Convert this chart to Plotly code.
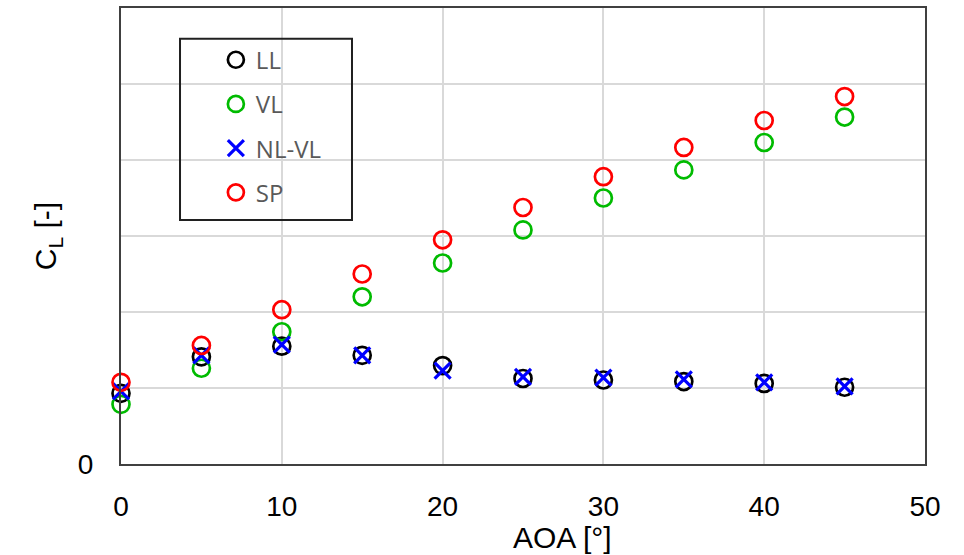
import plotly.graph_objects as go

# Angle of attack [deg]
aoa = [0, 5, 10, 15, 20, 25, 30, 35, 40, 45]

# Lift coefficient per method
cl_ll = [0.186, 0.282, 0.310, 0.286, 0.259, 0.225, 0.221, 0.217, 0.212, 0.202]
cl_vl = [0.157, 0.252, 0.348, 0.440, 0.529, 0.616, 0.700, 0.774, 0.846, 0.913]
cl_nlvl = [0.191, 0.286, 0.314, 0.286, 0.246, 0.229, 0.227, 0.223, 0.215, 0.204]
cl_sp = [0.215, 0.312, 0.406, 0.500, 0.590, 0.675, 0.756, 0.833, 0.904, 0.967]

x_ticks = [0, 10, 20, 30, 40, 50]
y_ticks = [0]
y_grid = [0.2, 0.4, 0.6, 0.8, 1.0]

series = [
    ("LL", cl_ll, "circle-open", "#000000", 17, 2.7),
    ("VL", cl_vl, "circle-open", "#00bb00", 17, 2.7),
    ("NL-VL", cl_nlvl, "x-thin-open", "#0000ff", 16, 3.2),
    ("SP", cl_sp, "circle-open", "#ff0000", 17, 2.7),
]

fig = go.Figure()
for name, vals, sym, col, size, lw in series:
    fig.add_trace(go.Scatter(
        x=aoa, y=vals, name=name, mode="markers", legendgroup=name,
        cliponaxis=False,
        marker=dict(symbol=sym, size=size, color=col,
                    line=dict(color=col, width=lw)),
    ))

sans = "Liberation Sans, Arial, sans-serif"
axis_common = dict(
    showline=True, linecolor="#404040", linewidth=2, mirror=True,
    gridcolor="#d9d9d9", gridwidth=1.5,
    zeroline=False, ticks="",
    tickfont=dict(family=sans, size=28, color="#000000"),
)

fig.update_layout(
    width=964, height=555,
    margin=dict(l=121, r=39, t=6, b=91),
    paper_bgcolor="#ffffff", plot_bgcolor="#ffffff",
    showlegend=True,
    legend=dict(
        x=0.118, y=0.935, xanchor="left", yanchor="top",
        bgcolor="rgba(0,0,0,0)", borderwidth=0,
        font=dict(family="Open Sans, sans-serif", size=24, color="#595959"),
        tracegroupgap=10, itemsizing="trace",
    ),
    xaxis=dict(
        range=[0, 50], tickvals=x_ticks, ticklabelstandoff=16, showgrid=True,
        **axis_common,
    ),
    yaxis=dict(
        range=[0, 1.2], tickvals=y_ticks, ticklabelstandoff=20, showgrid=False,
        minor=dict(tickvals=y_grid, showgrid=True, gridcolor="#d9d9d9",
                   gridwidth=1.5, ticks=""),
        title=dict(text="C<sub>L</sub> [-]", standoff=12,
                   font=dict(family=sans, size=30, color="#000000")),
        **axis_common,
    ),
    annotations=[dict(
        text="AOA [°]", xref="paper", yref="paper",
        x=(562 - 121) / 804, y=-(538 - 464) / 458,
        xanchor="center", yanchor="middle", showarrow=False,
        font=dict(family=sans, size=30, color="#000000"),
    )],
    shapes=[dict(
        type="rect", xref="paper", yref="paper",
        x0=0.0734, x1=0.2873, y0=0.5349, y1=0.9323,
        line=dict(color="#202020", width=2), fillcolor="rgba(0,0,0,0)",
    )],
)

fig.write_html("out.html")
